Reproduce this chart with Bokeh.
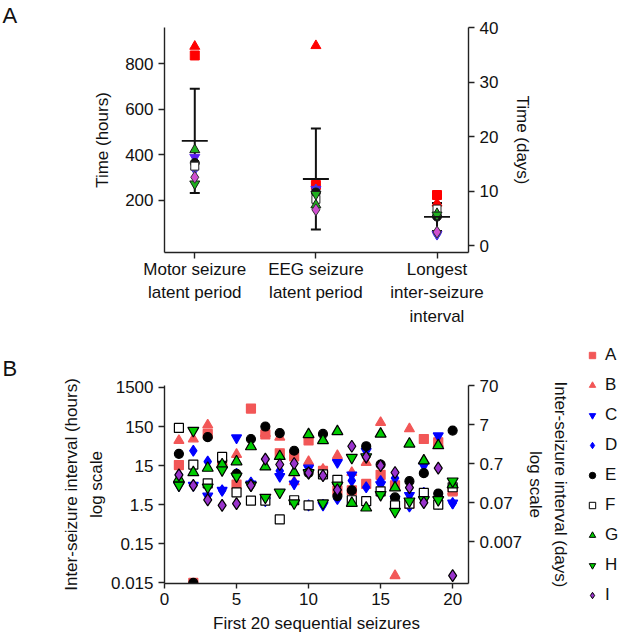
import numpy as np
from bokeh.plotting import figure
from bokeh.models import (Range1d, LinearAxis, LogAxis, LogScale, FixedTicker, PrintfTickFormatter,
                          ColumnDataSource, Legend, LegendItem, Whisker, TeeHead)
from bokeh.layouts import column, row
from bokeh.embed import file_html
from bokeh.resources import INLINE

FONT = "Liberation Sans"

# ---------------- Panel A data (hours), one value per animal A..I ----------------
animals = ["A", "B", "C", "D", "E", "F", "G", "H", "I"]
measure_labels = ["Motor seizure\nlatent period", "EEG seizure\nlatent period",
                  "Longest\ninter-seizure\ninterval"]
motor_hours = [837, 877, 389, 338, 364, 350, 422, 272, 301]
eeg_hours = [267, 880, 248, 245, 234, 204, 179, 226, 158]
longest_hours = [223, 187, 50, 52, 128, 161, 141, 135, 60]
left_ticks_A = [200, 400, 600, 800]
right_ticks_A = [0, 10, 20, 30, 40]

# ---------------- Panel B data: inter-seizure interval (hours) ----------------
seizure_no = list(range(1, 21))
isi_A = [15.5, 0.015, 97, 17, 4.9, 432, 94, 31, 26, 66, 11, 3.5, 3.5, 5.1, 8.7, 4.7, 1.6, 72, 59, 3.3]
isi_B = [66, 72, 164, 18, 29, 46, 100, 80, 5.8, 19, 12, 27, 10, 18, 190, 0.023, 131, 20, 55, 3.3]
isi_C = [4.7, 4.7, 2.5, 3.5, 77, 5.1, 1.9, 7.9, 5.1, 13, 1.45, 18, 8.7, 35, 4.9, 2.1, 2.6, 15, 87, 1.65]
isi_D = [8.7, 36, 19, 3.5, 9.2, 5.5, 1.9, 11, 5.5, 1.45, 1.5, 2.1, 6.2, 4.2, 6.0, 7.2, 1.35, 3.0, 1.6, 1.65]
isi_E = [30, 0.015, 80, 20, 9.2, 72, 150, 102, 36, 9.8, 97, 2.5, 3.5, 47, 16, 2.3, 6.0, 9.6, 2.9, 118]
isi_F = [138, 16, 5.3, 25, 3.1, 1.9, 1.9, 0.63, 1.95, 1.45, 9.0, 6.5, 1.95, 1.85, 3.3, 1.45, 1.6, 3.0, 1.5, 4.2]
isi_G = [6.9, 10, 13, 16, 19, 46, 14, 26, 10, 94, 66, 112, 1.65, 1.25, 97, 4.1, 54, 20, 49, 4.9]
isi_H = [4.7, 118, 4.2, 11.6, 8.0, 4.7, 2.3, 3.1, 1.65, 9.8, 1.65, 4.7, 24, 25, 2.7, 1.0, 1.85, 2.0, 2.0, 6.0]
isi_I = [8.7, 4.7, 2.0, 1.45, 1.6, 4.7, 22, 16, 17, 9.8, 8.3, 3.6, 47, 25, 15, 10, 4.1, 1.7, 13, 0.023]
left_ticks_B = [0.015, 0.15, 1.5, 15, 150, 1500]
right_ticks_B = [0.007, 0.07, 0.7, 7, 70]
x_ticks_B = [0, 5, 10, 15, 20]

# marker styles: (marker, fill, line, size)
style_A = {
    "A": ("square", "#ff0000", None, 9),
    "B": ("triangle", "#ff0000", None, 10),
    "C": ("inverted_triangle", "#5a1ef0", None, 10),
    "D": ("diamond", "#4a3ae0", None, 12),
    "E": ("circle", "#111111", None, 9),
    "F": ("square", "#ffffff", "#222222", 8),
    "G": ("triangle", "#1fb01f", "#1a1a1a", 10),
    "H": ("inverted_triangle", "#1fb01f", "#1a1a1a", 10),
    "I": ("diamond", "#d04fd0", "#333333", 12),
}
style_B = {
    "A": ("square", "#f25757", None, 9),
    "B": ("triangle", "#f25757", None, 10),
    "C": ("inverted_triangle", "#0000ff", None, 10),
    "D": ("diamond", "#0000ff", None, 11),
    "E": ("circle", "#000000", None, 9),
    "F": ("square", "#ffffff", "#000000", 9),
    "G": ("triangle", "#00cc00", "#000000", 11),
    "H": ("inverted_triangle", "#00cc00", "#000000", 11),
    "I": ("diamond", "#9933cc", "#000000", 12),
}


def style_axis(ax, size="17px"):
    ax.axis_line_color = "#222222"
    ax.axis_line_width = 1.4
    ax.major_tick_line_color = "#222222"
    ax.major_tick_line_width = 1.4
    ax.major_tick_out = 6
    ax.major_tick_in = 0
    ax.minor_tick_out = 0
    ax.minor_tick_in = 0
    ax.major_label_text_font = FONT
    ax.major_label_text_font_size = size
    ax.major_label_text_color = "#111111"
    ax.axis_label_text_font = FONT
    ax.axis_label_text_font_size = size
    ax.axis_label_text_font_style = "normal"
    ax.axis_label_text_color = "#111111"


def panel_letter(p, letter, standoff):
    p.title.text = letter
    p.title.align = "left"
    p.title.offset = -162
    p.title.standoff = standoff
    p.title.text_font = FONT
    p.title.text_font_size = "22px"
    p.title.text_font_style = "normal"
    p.title.text_color = "#111111"
    p.title.text_line_height = 1.0


# ================= Panel A =================
pA = figure(width=621, height=345, output_backend="svg", toolbar_location=None,
            x_range=Range1d(0.75, 3.26), y_range=Range1d(-30, 960),
            min_border_left=164, min_border_right=153, min_border_top=25, min_border_bottom=93)
pA.xgrid.visible = False
pA.ygrid.visible = False
pA.outline_line_color = None
panel_letter(pA, "A", 0)

pA.yaxis.ticker = FixedTicker(ticks=left_ticks_A)
pA.yaxis.axis_label = "Time (hours)"
pA.yaxis.axis_label_standoff = 10
pA.yaxis.major_label_standoff = 5
pA.xaxis.ticker = FixedTicker(ticks=[1, 2, 3])
pA.xaxis.major_label_overrides = {i + 1: lab for i, lab in enumerate(measure_labels)}
pA.xaxis.major_label_standoff = 1
pA.xaxis.major_label_text_line_height = 1.25
pA.extra_y_ranges = {"days": Range1d(pA.y_range.start / 24, pA.y_range.end / 24)}
axA_r = LinearAxis(y_range_name="days", axis_label="Time (days)",
                   ticker=FixedTicker(ticks=right_ticks_A))
pA.add_layout(axA_r, "right")
axA_r.axis_label_standoff = 12
axA_r.major_label_standoff = 5
for ax in pA.axis:
    style_axis(ax)

xpos = [1, 2, 3]
for i, a in enumerate(animals):
    mk, fc, lc, sz = style_A[a]
    pA.scatter(x=xpos, y=[motor_hours[i], eeg_hours[i], longest_hours[i]], marker=mk, size=sz,
               fill_color=fc, line_color=lc if lc else fc, line_width=1.0)

groups = [motor_hours, eeg_hours, longest_hours]
means = [float(np.mean(g)) for g in groups]
sds = [float(np.std(g, ddof=1)) for g in groups]
src = ColumnDataSource(dict(x=xpos, mean=means,
                            upper=[m + s for m, s in zip(means, sds)],
                            lower=[m - s for m, s in zip(means, sds)]))
wh = Whisker(base="x", upper="upper", lower="lower", source=src, line_width=2, line_color="#111111",
             upper_head=TeeHead(size=10, line_width=2, line_color="#111111"),
             lower_head=TeeHead(size=10, line_width=2, line_color="#111111"))
pA.add_layout(wh)
pA.scatter(x="x", y="mean", source=src, marker="dash", size=26, line_width=1.8, line_color="#111111")

# ================= Panel B =================
pB = figure(width=584, height=294, output_backend="svg", toolbar_location=None,
            x_range=Range1d(0, 21.1), y_range=Range1d(0.0145, 1680), y_axis_type="log",
            min_border_left=164, min_border_right=116, min_border_top=40, min_border_bottom=56)
pB.xgrid.visible = False
pB.ygrid.visible = False
pB.outline_line_color = None
panel_letter(pB, "B", 10)

pB.yaxis.ticker = FixedTicker(ticks=left_ticks_B)
pB.yaxis.formatter = PrintfTickFormatter(format="%g")
pB.yaxis.axis_label = "Inter-seizure interval (hours)\nlog scale"
pB.yaxis.axis_label_standoff = 2
pB.yaxis.major_label_standoff = 5
pB.yaxis.axis_label_text_line_height = 1.3
pB.xaxis.ticker = FixedTicker(ticks=x_ticks_B)
pB.xaxis.axis_label = "First 20 sequential seizures"
pB.xaxis.axis_label_standoff = 6
pB.xaxis.major_label_standoff = 4
pB.extra_y_ranges = {"days": Range1d(pB.y_range.start / 24, pB.y_range.end / 24)}
pB.extra_y_scales = {"days": LogScale()}
axB_r = LogAxis(y_range_name="days", axis_label="Inter-seizure interval (days)\nlog scale",
                ticker=FixedTicker(ticks=right_ticks_B), formatter=PrintfTickFormatter(format="%g"))
pB.add_layout(axB_r, "right")
axB_r.axis_label_standoff = 1
axB_r.major_label_standoff = 5
axB_r.axis_label_text_line_height = 1.3
for ax in pB.axis:
    style_axis(ax)
pB.xaxis.major_tick_out = 5

series_B = [isi_A, isi_B, isi_C, isi_D, isi_E, isi_F, isi_G, isi_H, isi_I]
for a, ys in zip(animals, series_B):
    mk, fc, lc, sz = style_B[a]
    pB.scatter(x=seizure_no, y=ys, marker=mk, size=sz, fill_color=fc,
               line_color=lc if lc else fc, line_width=1.2)

# ---------------- Legend (separate narrow figure to the right of panel B) ----------------
pL = figure(width=37, height=294, output_backend="svg", toolbar_location=None,
            x_range=Range1d(0, 1), y_range=Range1d(0, 1),
            x_axis_location=None, y_axis_location=None,
            min_border_left=0, min_border_right=0, min_border_top=0, min_border_bottom=0)
pL.frame_align = False
pL.xgrid.visible = False
pL.ygrid.visible = False
pL.outline_line_color = None
items = []
for a in animals:
    mk, fc, lc, sz = style_B[a]
    # one point outside the visible range: only the legend swatch is seen
    r = pL.scatter(x=[-5], y=[-5], marker=mk, size=sz, fill_color=fc,
                   line_color=lc if lc else fc, line_width=1.0)
    items.append(LegendItem(label=a, renderers=[r]))
leg = Legend(items=items, location=(0, 34), orientation="vertical",
             label_text_font=FONT, label_text_font_size="17px", label_text_color="#111111",
             glyph_width=16, glyph_height=16, label_height=16, spacing=10, padding=0, margin=0,
             label_standoff=5, background_fill_alpha=0, border_line_color=None)
pL.add_layout(leg)

layout = column(pA, row(pB, pL, spacing=0), spacing=0)
open("out.html", "w").write(file_html(layout, INLINE))
